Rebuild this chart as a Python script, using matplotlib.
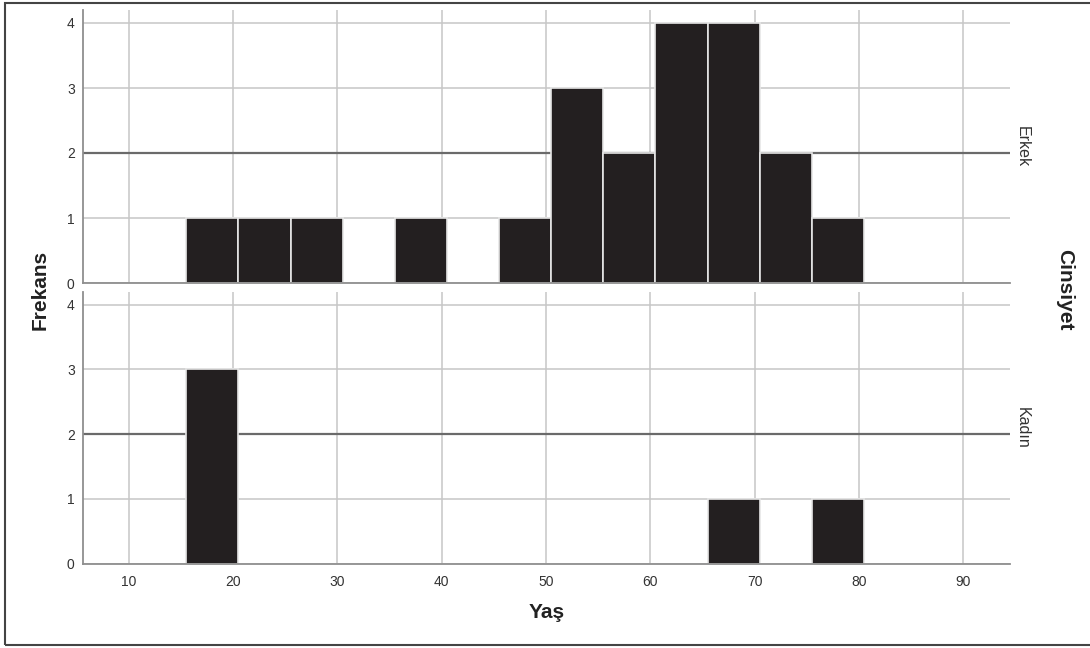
import matplotlib
matplotlib.use("Agg")
import matplotlib.pyplot as plt
from matplotlib.patches import Rectangle

plt.rcParams['font.family'] = ['Liberation Sans', 'DejaVu Sans']

# age bins (left edges, width 5) and counts per group
bin_left = [15.5, 20.5, 25.5, 30.5, 35.5, 40.5, 45.5, 50.5, 55.5, 60.5, 65.5, 70.5, 75.5]
bin_width = 5
erkek = [1, 1, 1, 0, 1, 0, 1, 3, 2, 4, 4, 2, 1]
kadin = [3, 0, 0, 0, 0, 0, 0, 0, 0, 0, 1, 0, 1]
groups = ["Erkek", "Kadın"]
x_ticks = [10, 20, 30, 40, 50, 60, 70, 80, 90]
y_ticks = [0, 1, 2, 3, 4]

W, H = 1090, 648
fig = plt.figure(figsize=(W / 100, H / 100), dpi=100)

left, right = 83 / W, 1010 / W
panels = [(283, 10), (563.5, 291.7)]  # (bottom px, top px)

bar_col = '#231f20'
grid_col = '#c6c6c6'
spine_col = '#8f8f8f'

for k, (counts, name) in enumerate(zip([erkek, kadin], groups)):
    bot, top = panels[k]
    ax = fig.add_axes([left, 1 - bot / H, right - left, (bot - top) / H])
    ax.set_xlim(5.6, 94.5)
    ax.set_ylim(0, 4.2)
    ax.set_xticks(x_ticks)
    ax.set_yticks(y_ticks)
    ax.grid(True, color=grid_col, linewidth=1.1, zorder=0)
    ax.set_axisbelow(True)
    ax.axhline(2, color='#6a6a6a', linewidth=1.6, zorder=1)
    ax.bar(bin_left, counts, width=bin_width, align='edge', color=bar_col,
           edgecolor='#e6e6e6', linewidth=1.2, zorder=2)
    for s in ['top', 'right']:
        ax.spines[s].set_visible(False)
    for s in ['left', 'bottom']:
        ax.spines[s].set_color(spine_col)
        ax.spines[s].set_linewidth(1.3)
        ax.spines[s].set_zorder(3)
    ax.tick_params(length=0, labelsize=10, labelcolor='#333333', pad=6)
    if k == 0:
        ax.tick_params(axis='x', labelbottom=False)
    else:
        ax.tick_params(axis='x', pad=8)
    ax.text(1.013, 0.5, name, transform=ax.transAxes, rotation=-90,
            ha='center', va='center', fontsize=11.5, color='#333333')

fig.text(40 / W, 1 - 290 / H, "Frekans", rotation=90, ha='center', va='center',
         fontsize=15, fontweight='bold', color='#222222')
fig.text(1065 / W, 1 - 290 / H, "Cinsiyet", rotation=-90, ha='center', va='center',
         fontsize=15, fontweight='bold', color='#222222')
fig.text(547 / W, 1 - 612 / H, "Yaş", ha='center', va='center',
         fontsize=15, fontweight='bold', color='#222222')

# outer frame
fig.patches.append(Rectangle((5 / W, 3 / H), 1.2, 1 - 6 / H, transform=fig.transFigure,
                             fill=False, edgecolor='#444444', linewidth=1.5))

fig.savefig("out.png", dpi=100)
